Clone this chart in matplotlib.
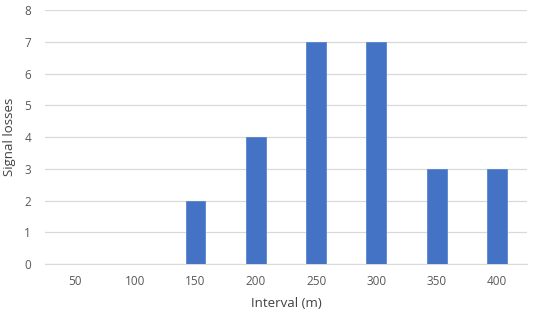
import matplotlib
matplotlib.use("Agg")
import matplotlib.pyplot as plt

intervals = ["50", "100", "150", "200", "250", "300", "350", "400"]
losses = [0, 0, 2, 4, 7, 7, 3, 3]

plt.rcParams['font.family'] = ['Open Sans', 'DejaVu Sans']

fig = plt.figure(figsize=(5.34, 3.17), dpi=100)
ax = fig.add_axes([0.084, 0.167, 0.903, 0.801])

x = range(len(intervals))
ax.bar(x, losses, width=0.33, color='#4472C4', edgecolor='#5A86D0',
       linewidth=0.6, zorder=3)
ax.set_xticks(list(x))
ax.set_xticklabels(intervals)
ax.set_xlim(-0.5, len(intervals) - 0.5)
ax.set_ylim(0, 8)
ax.set_yticks(range(0, 9))

ax.grid(axis='y', color='#D9D9D9', linewidth=0.9, zorder=0)
for s in ['top', 'right', 'left']:
    ax.spines[s].set_visible(False)
ax.spines['bottom'].set_color('#D9D9D9')
ax.tick_params(axis='both', length=0, colors='#595959', labelsize=8.5)
ax.tick_params(axis='x', pad=8)
ax.tick_params(axis='y', pad=10)

ax.set_xlabel('Interval (m)', fontsize=9.5, color='#404040', labelpad=6)
ax.set_ylabel('Signal losses', fontsize=9.5, color='#404040', labelpad=6)

fig.savefig('out.png', dpi=100)
